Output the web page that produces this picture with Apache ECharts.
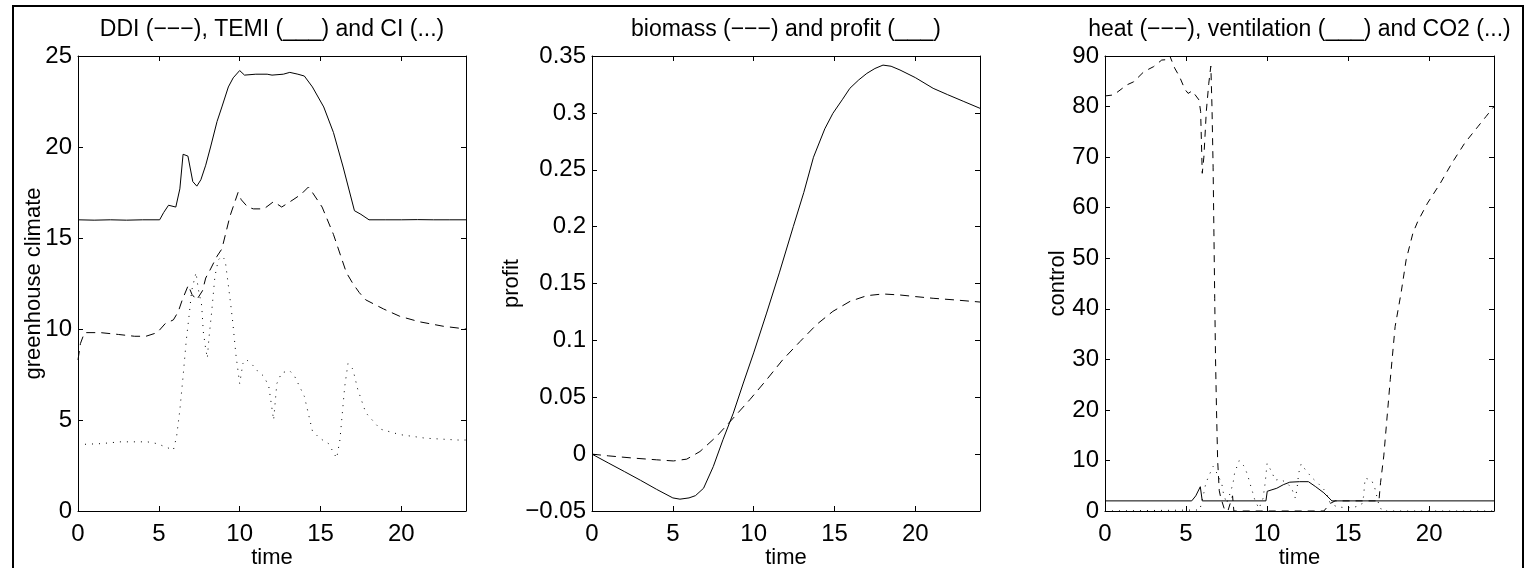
<!DOCTYPE html>
<html>
<head>
<meta charset="utf-8">
<script src="https://cdn.jsdelivr.net/npm/echarts@6/dist/echarts.min.js"></script>
<style>
html, body { margin: 0; padding: 0; background: #fff; }
#chart { width: 1534px; height: 568px; }
</style>
</head>
<body>
<div id="chart"></div>
<script>
// panel 1 : greenhouse climate
const temiT = [0, 1, 2, 3, 4, 5.05, 5.3, 5.6, 6.05, 6.3, 6.5, 6.8, 7.1, 7.35, 7.6, 7.9, 8.2, 8.6, 8.9, 9.3, 9.6, 10.0, 10.3, 11.0, 11.7, 12.0, 12.7, 13.1, 13.6, 14.0, 14.5, 15.2, 15.8, 16.4, 17.1, 17.5, 18.0, 19, 20, 21, 22, 23, 24];
const temiV = [16, 15.98, 16, 15.98, 16, 16, 16.4, 16.8, 16.7, 17.7, 19.6, 19.5, 18.1, 17.85, 18.2, 19.0, 20.0, 21.4, 22.2, 23.3, 23.8, 24.2, 23.95, 24.0, 24.0, 23.95, 24.0, 24.1, 24.0, 23.9, 23.3, 22.2, 20.8, 18.9, 16.5, 16.3, 16.0, 16, 16, 16.01, 16, 16, 16];

const ddiT = [0, 0.15, 0.4, 1.4, 2.5, 3.5, 4.2, 4.9, 5.4, 5.9, 6.2, 6.45, 6.82, 7.05, 7.34, 7.7, 7.9, 8.2, 8.6, 8.9, 9.4, 9.9, 10.1, 10.5, 10.85, 11.5, 12.1, 12.6, 13.3, 13.8, 14.25, 14.5, 15.1, 15.8, 16.6, 17.0, 17.4, 17.8, 18.9, 19.9, 21.1, 22.6, 24];
const ddiV = [8.3, 9.2, 9.8, 9.8, 9.7, 9.6, 9.6, 9.8, 10.3, 10.5, 10.95, 11.6, 12.4, 11.9, 11.6, 12.1, 12.8, 13.3, 14.0, 14.4, 16.2, 17.5, 17.1, 16.7, 16.6, 16.6, 17.0, 16.7, 17.1, 17.4, 17.8, 17.5, 16.7, 15.2, 13.1, 12.5, 12.0, 11.6, 11.1, 10.7, 10.4, 10.15, 10.0];

const ciT = [0, 1.4, 2.6, 4.3, 4.9, 5.9, 6.1, 6.3, 6.5, 6.7, 6.88, 7.03, 7.3, 7.44, 7.65, 7.75, 7.9, 8.0, 8.1, 8.27, 8.47, 8.68, 8.9, 9.1, 9.3, 9.44, 9.57, 9.77, 10.0, 10.2, 10.4, 10.76, 11.1, 11.5, 11.8, 12.1, 12.3, 12.6, 13.1, 13.4, 14.0, 14.5, 14.95, 15.5, 16.0, 16.2, 16.5, 16.7, 17.0, 17.3, 17.8, 18.7, 19.9, 21.5, 23.5, 24];
const ciV = [3.65, 3.7, 3.8, 3.8, 3.7, 3.35, 4.1, 5.55, 7.4, 9.4, 10.8, 12.1, 13.1, 12.2, 11.3, 9.85, 8.9, 8.4, 9.5, 10.95, 12.9, 13.8, 14.0, 13.8, 12.4, 11.4, 10.4, 8.57, 7.0, 8.1, 8.33, 8.06, 7.7, 7.4, 6.85, 5.0, 7.0, 7.6, 7.7, 7.4, 6.3, 4.4, 4.0, 3.7, 2.9, 3.9, 6.85, 8.1, 7.8, 6.7, 5.4, 4.5, 4.2, 4.0, 3.9, 3.9];

// panel 2 : biomass and profit
const profitT = [0, 1, 2, 3, 4, 5, 5.44, 6.0, 6.4, 6.9, 7.5, 8.1, 8.74, 9.36, 10.0, 10.8, 11.6, 12.45, 13.1, 13.7, 14.4, 14.9, 15.5, 15.95, 16.5, 17.0, 17.5, 18.0, 18.5, 19.05, 20, 21.1, 22, 23, 24];
const profitV = [0, -0.0077, -0.0153, -0.023, -0.031, -0.0385, -0.0396, -0.0385, -0.0365, -0.030, -0.011, 0.0126, 0.036, 0.0625, 0.089, 0.124, 0.16, 0.20, 0.23, 0.261, 0.286, 0.2996, 0.312, 0.3216, 0.329, 0.3347, 0.339, 0.342, 0.341, 0.3377, 0.331, 0.3216, 0.316, 0.310, 0.304];

const biomassT = [0, 1, 2.56, 4, 5.03, 5.86, 6.68, 7.7, 8.74, 9.77, 10.8, 11.8, 12.87, 13.9, 14.9, 15.96, 17, 18, 19.05, 20, 21.1, 22.5, 24];
const biomassV = [0, -0.0015, -0.0035, -0.005, -0.006, -0.0044, 0.0023, 0.0155, 0.0317, 0.048, 0.0654, 0.083, 0.099, 0.114, 0.1255, 0.1343, 0.1393, 0.1408, 0.1399, 0.1385, 0.137, 0.1355, 0.1337];

// panel 3 : control
const heatT = [0, 0.53, 1.36, 1.77, 2.4, 3.0, 3.5, 3.9, 4.0, 4.3, 4.6, 4.93, 5.13, 5.38, 5.8, 5.9, 6.0, 6.1, 6.25, 6.4, 6.53, 6.6, 6.67, 6.72, 6.77, 6.82, 6.88, 6.95, 7.05, 7.13, 7.4, 7.6, 7.87, 7.95, 13.5, 13.9, 14.2, 16.9, 17.0, 17.2, 17.6, 17.9, 18.27, 18.58, 19.0, 19.3, 19.9, 20.7, 21.4, 22.2, 23.0, 23.5, 24];
const heatV = [82.1, 82.3, 84.3, 84.9, 86.9, 87.9, 89.2, 89.3, 90, 87.6, 85.9, 83.4, 82.6, 83.1, 81.3, 79, 66.8, 70, 79, 84.5, 88, 80, 68, 55, 42, 30, 20, 10, 4, 2.8, 0, 0.2, 3.0, 0, 0, 1.5, 2, 2, 5.6, 10.9, 26, 36.5, 43.2, 49.7, 55, 57.3, 60.9, 64.9, 68.8, 72.8, 76, 78, 80];

const ventT = [0, 5.35, 5.6, 5.88, 6.0, 9.93, 10.01, 10.3, 10.6, 11.0, 11.4, 12.0, 12.55, 13.0, 13.5, 14.0, 24];
const ventV = [2, 2, 3, 4.8, 2, 2, 3.9, 4.2, 4.5, 5.2, 5.7, 5.8, 5.8, 4.8, 3.6, 2, 2];

const co2T = [0, 5.85, 6.1, 6.22, 6.43, 6.67, 6.9, 7.2, 7.3, 7.5, 7.75, 7.9, 8.0, 8.28, 8.6, 8.8, 8.94, 9.1, 9.25, 9.5, 9.75, 9.88, 10.0, 10.28, 10.5, 10.8, 11.2, 11.5, 11.75, 11.85, 11.95, 12.1, 12.45, 12.8, 13.2, 13.58, 13.9, 14.3, 14.7, 15.2, 15.7, 15.85, 15.95, 16.05, 16.45, 16.65, 16.9, 17.1, 24];
const co2V = [0, 0.2, 3.6, 5.5, 7.1, 8.8, 7.5, 5.5, 3.6, 1.5, 3.8, 5.5, 7.6, 9.95, 8.8, 7.1, 5.5, 3.8, 2.1, 0.5, 2.5, 5.5, 9.4, 7.8, 6.1, 6.3, 5.6, 4.6, 2.5, 4.5, 7.5, 9.3, 7.8, 6.5, 5.3, 4.0, 1.5, 0.85, 0.7, 0.66, 1.0, 1.4, 2.8, 6.5, 6.1, 4.5, 1.2, 0, 0];

const titles = ['DDI (−−−), TEMI (___) and CI (...)', 'biomass (−−−) and profit (___)', 'heat (−−−), ventilation (___) and CO2 (...)'];
const yNames = ['greenhouse climate', 'profit', 'control'];
const yRanges = [[0, 25, 5], [-0.05, 0.35, 0.05], [0, 90, 10]];

const FONT = "'Liberation Sans', Arial, Helvetica, sans-serif";
const zip = (t, v) => t.map((x, i) => [x, v[i]]);

// fixed plot boxes, labels may run outside
const grids = [
    { left: 78, top: 56, width: 388, height: 455, outerBoundsMode: 'none' },
    { left: 592, top: 56, width: 388, height: 455, outerBoundsMode: 'none' },
    { left: 1105, top: 56, width: 389, height: 455, outerBoundsMode: 'none' }
];
const yGaps = [33, 69, 36];

const black = { color: '#000', width: 1 };
const tick = { inside: true, length: 5, lineStyle: { color: '#000', width: 1 } };

const xAxes = [], yAxes = [];
grids.forEach((g, i) => {
    xAxes.push({
        type: 'value', gridIndex: i, position: 'bottom', min: 0, max: 24, interval: 5,
        axisLine: { onZero: false, lineStyle: black }, axisTick: tick, splitLine: { show: false },
        axisLabel: { color: '#000', fontSize: 24, fontFamily: FONT, margin: 11,
            formatter: v => (v > 20 ? '' : String(v)) },
        name: 'time', nameLocation: 'middle', nameGap: 36, nameMoveOverlap: false,
        nameTextStyle: { color: '#000', fontSize: 22, fontFamily: FONT }
    });
    xAxes.push({
        type: 'value', gridIndex: i, position: 'top', min: 0, max: 24, interval: 5,
        axisLine: { onZero: false, lineStyle: black }, axisTick: tick, splitLine: { show: false },
        axisLabel: { show: false }
    });
    const r = yRanges[i];
    yAxes.push({
        type: 'value', gridIndex: i, position: 'left', min: r[0], max: r[1], interval: r[2],
        axisLine: { onZero: false, lineStyle: black }, axisTick: tick, splitLine: { show: false },
        axisLabel: { color: '#000', fontSize: 24, fontFamily: FONT, margin: 6,
            formatter: v => String(+v.toFixed(2)).replace('-', '−') },
        name: yNames[i], nameLocation: 'middle', nameGap: yGaps[i], nameMoveOverlap: false,
        nameTextStyle: { color: '#000', fontSize: 22, fontFamily: FONT }
    });
    yAxes.push({
        type: 'value', gridIndex: i, position: 'right', min: r[0], max: r[1], interval: r[2],
        axisLine: { onZero: false, lineStyle: black }, axisTick: tick, splitLine: { show: false },
        axisLabel: { show: false }
    });
});

function line(panel, data, dash) {
    return {
        type: 'line', xAxisIndex: panel * 2, yAxisIndex: panel * 2,
        data: data, symbol: 'none', showSymbol: false, silent: true,
        lineStyle: { color: '#000', width: 1, type: dash || 'solid', cap: 'butt' }
    };
}

const DASH = [9, 6];
const DOT = [1, 6];

const chart = echarts.init(document.getElementById('chart'));
chart.setOption({
    animation: false,
    backgroundColor: '#fff',
    title: titles.map((t, i) => ({
        text: t, left: grids[i].left + grids[i].width / 2, top: 18, textAlign: 'center', padding: 0,
        textStyle: { color: '#000', fontSize: 23, fontWeight: 'normal', fontFamily: FONT }
    })),
    grid: grids,
    xAxis: xAxes,
    yAxis: yAxes,
    graphic: [{
        type: 'rect', silent: true, z: 100,
        shape: { x: 13, y: 6, width: 1510, height: 620 },
        style: { fill: 'none', stroke: '#000', lineWidth: 2 }
    }],
    series: [
        line(0, zip(temiT, temiV)),
        line(0, zip(ddiT, ddiV), DASH),
        line(0, zip(ciT, ciV), DOT),
        line(1, zip(profitT, profitV)),
        line(1, zip(biomassT, biomassV), DASH),
        line(2, zip(heatT, heatV), [7, 6]),
        line(2, zip(ventT, ventV)),
        line(2, zip(co2T, co2V), DOT)
    ]
});
</script>
</body>
</html>
